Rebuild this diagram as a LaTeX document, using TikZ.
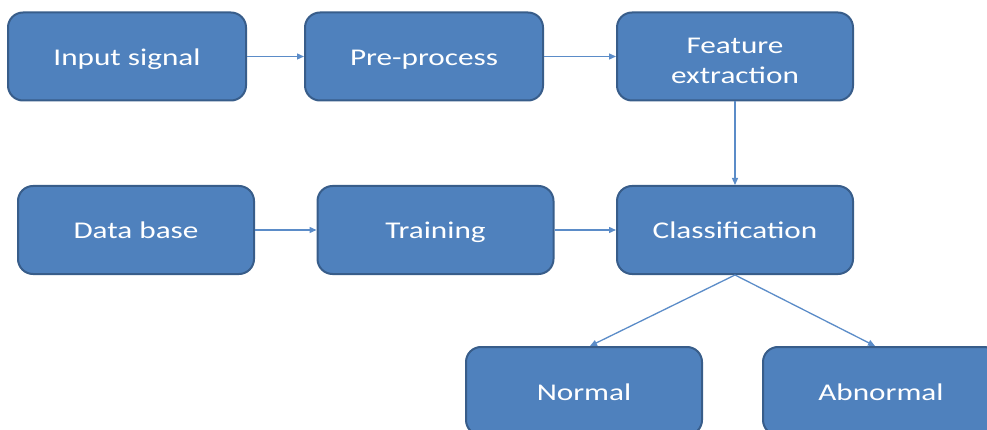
\documentclass[tikz,border=0pt]{standalone}
\usepackage{fontspec}
\setmainfont{Carlito}[FakeStretch=1.3]
\usetikzlibrary{arrows.meta}
\definecolor{boxfill}{HTML}{4F81BD}
\definecolor{boxline}{HTML}{385D8A}
\definecolor{arrowc}{HTML}{5B8CC8}
\begin{document}
\begin{tikzpicture}[x=1pt,y=-1pt,
  blk/.style={draw=boxline,line width=2pt,fill=boxfill,rounded corners=15pt,
    minimum width=236pt,minimum height=88pt,text=white,align=center,
    font=\fontsize{24}{30}\selectfont,inner sep=0pt},
  one/.style={text height=20pt,text depth=2pt},
  conn/.style={draw=arrowc,line width=1.3pt,-{Triangle[length=7pt,width=6pt]}}]
\useasboundingbox (0,0) rectangle (987,430);
\node[blk,one,minimum width=238pt] (inp) at (127,56.5) {Input signal};
\node[blk,one,minimum width=238pt] (pre) at (424,56.5) {Pre-process};
\node[blk] (fea) at (735,56.5) {\rule{0pt}{24pt}Feature\\extraction};
\node[blk,one] (db) at (136,230) {Data base};
\node[blk,one] (tr) at (435.5,230) {Training};
\node[blk,one] (cls) at (735,230) {Classification};
\node[blk,one] (nor) at (584,391) {Normal};
\node[blk,one] (abn) at (881,391) {Abnormal};
\draw[conn] (inp) -- (pre);
\draw[conn] (pre) -- (fea);
\draw[conn] (fea) -- (cls);
\draw[conn] (db) -- (tr);
\draw[conn] (tr) -- (cls);
\draw[conn] (cls.south) -- ([xshift=6pt]nor.north);
\draw[conn] (cls.south) -- ([xshift=-6pt]abn.north);
\end{tikzpicture}
\end{document}
